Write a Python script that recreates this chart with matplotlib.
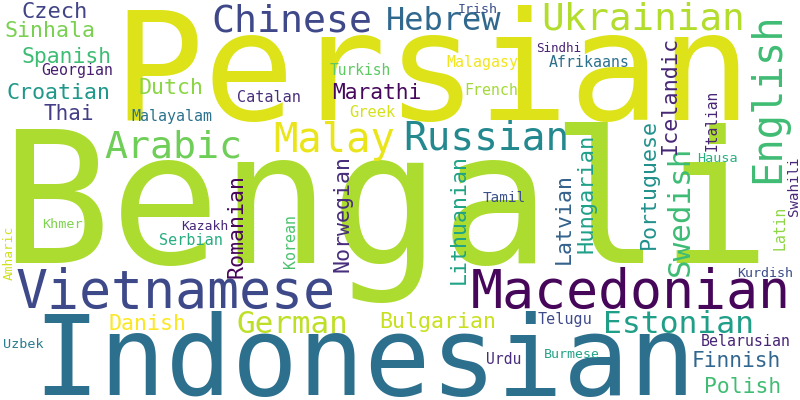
import matplotlib
matplotlib.use("Agg")
import matplotlib.pyplot as plt

# word cloud data: word, font size (pt), colour, orientation
words = ["Persian", "Bengali", "Indonesian", "Vietnamese", "Macedonian",
         "Chinese", "Arabic", "Malay", "Russian", "Ukrainian", "Hebrew",
         "Estonian", "German", "Czech", "Sinhala", "Spanish", "Croatian",
         "Thai", "Dutch", "Marathi", "Bulgarian", "Danish", "Finnish",
         "Polish", "Georgian", "Malayalam", "Turkish", "Catalan", "Greek",
         "Irish", "Sindhi", "Malagasy", "Afrikaans", "French", "Hausa",
         "Kurdish", "Tamil", "Telugu", "Belarusian", "Burmese", "Urdu",
         "Uzbek", "Khmer", "Kazakh", "Serbian",
         "English", "Swedish", "Icelandic", "Portuguese", "Lithuanian",
         "Latvian", "Hungarian", "Romanian", "Norwegian", "Italian",
         "Latin", "Swahili", "Amharic", "Korean"]

sizes = [109.4, 131.8, 79.2, 38.3, 38.3,
         27.5, 27.5, 29.2, 28.4, 27.1, 23.0,
         22.6, 22.3, 15.8, 15.6, 15.4, 15.6,
         15.0, 15.6, 15.3, 15.6, 15.6, 15.3,
         15.4, 10.7, 10.8, 10.5, 10.9, 11.1,
         9.6, 9.0, 10.7, 10.7, 10.7, 9.7,
         9.6, 10.4, 10.9, 10.7, 9.5, 10.6,
         9.7, 9.7, 9.4, 10.9,
         29.2, 22.3, 15.7, 15.6, 15.6,
         15.6, 15.8, 15.6, 15.6, 10.5,
         10.6, 10.2, 9.3, 10.7]

colors = ["#dde318", "#addc30", "#2d708e", "#3e4989", "#46075a",
          "#3f4889", "#6ece58", "#eae51a", "#23898e", "#b2dd2d", "#31688e",
          "#1f9f88", "#bddf26", "#414487", "#7ad151", "#3dbc74", "#1f988b",
          "#433e85", "#8bd646", "#46085c", "#c8e020", "#fde725", "#31668e",
          "#40bd72", "#481f70", "#2c728e", "#5ec962", "#472f7d", "#d5e21a",
          "#3b528b", "#482173", "#f1e51d", "#2d708e", "#a2da37", "#2ab07f",
          "#3d4e8a", "#3b528b", "#3e4a89", "#482475", "#25a386", "#472d7b",
          "#287d8e", "#7fd34e", "#482878", "#27ad81",
          "#3fbc73", "#3dbc74", "#482677", "#21918c", "#20a386",
          "#33628d", "#1fa088", "#450559", "#472d7b", "#482576",
          "#8ed645", "#482878", "#d0e11c", "#4ac16d"]

vertical = [False] * 45 + [True] * 14

# layout in pixels (800x400, y down): horizontal words -> (centre x, baseline y),
# vertical words -> (baseline x, centre y)
pos_x = [432, 386, 364, 175.5, 630.5,
         291.5, 173, 334, 486, 643, 444,
         678, 292.5, 55, 50.5, 67, 58,
         69, 171.5, 376.5, 437.5, 147, 736.5,
         742.5, 77, 172, 360, 269, 372.5,
         477.5, 559, 482, 589.5, 491, 717.5,
         765.5, 504, 565.5, 746, 572, 504,
         23.5, 62.5, 205, 191,
         779, 689, 676, 655, 465,
         570, 593, 243, 348, 717,
         785, 798, 13, 295]

pos_y = [120, 263, 395, 308, 308,
         32, 157, 152, 150, 30, 30,
         333, 333, 18, 37, 63, 99,
         120, 94, 99, 328, 330, 367,
         393, 75, 121, 75, 102, 117,
         13, 52, 67, 67, 95, 162,
         277, 202, 324, 346, 358, 364,
         348, 228, 230, 245,
         98, 211, 95, 184, 219,
         218, 193, 226, 214, 120,
         228, 186, 253, 241]

fig = plt.figure(figsize=(8, 4), dpi=100)
fig.patch.set_facecolor("white")
ax = fig.add_axes([0, 0, 1, 1])
ax.set_xlim(0, 800)
ax.set_ylim(400, 0)
ax.axis("off")

for w, s, c, v, x, y in zip(words, sizes, colors, vertical, pos_x, pos_y):
    ax.text(x, y, w, fontsize=s, color=c, family="DejaVu Sans Mono",
            ha="center", va="baseline", rotation=90 if v else 0,
            rotation_mode="anchor")

fig.savefig("out.png", dpi=100, facecolor="white")
